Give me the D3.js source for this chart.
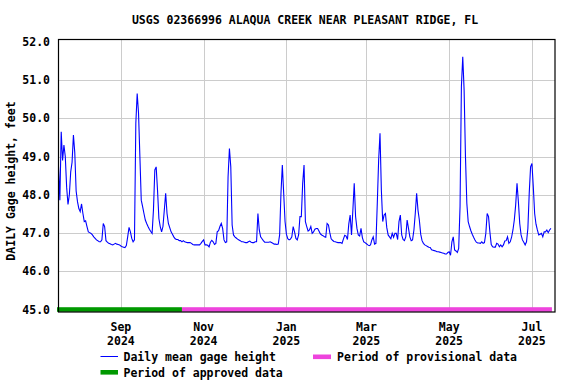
<!DOCTYPE html>
<html>
<head>
<meta charset="utf-8">
<script src="https://cdn.jsdelivr.net/npm/d3@7"></script>
<style>
  body { margin: 0; background: #fff; }
  text { font-family: "DejaVu Sans Mono", monospace; font-weight: bold; font-size: 11.5px; fill: #000; }
</style>
</head>
<body>
<script>
/* Data */
const title = "USGS 02366996 ALAQUA CREEK NEAR PLEASANT RIDGE, FL";
const yTitle = "DAILY Gage height, feet";
const startDate = "2024-07-17";
const gageHeight = [
  48.73, 47.86, 49.65, 48.9, 49.3, 49.0, 48.2, 47.75, 48.0, 48.6,
  48.85, 49.56, 49.1, 48.1, 47.82, 47.64, 47.56, 47.76, 47.51, 47.30,
  47.32, 47.17, 47.03, 47.01, 46.99, 46.95, 46.90, 46.86, 46.82, 46.80,
  46.77, 46.77, 46.82, 47.25, 47.17, 46.80, 46.76, 46.73, 46.72, 46.70,
  46.69, 46.71, 46.73, 46.71, 46.70, 46.69, 46.66, 46.64, 46.63, 46.62,
  46.67, 46.90, 47.15, 47.03, 46.86, 46.77, 46.82, 49.87, 50.65, 50.13,
  49.00, 47.86, 47.69, 47.51, 47.34, 47.25, 47.17, 47.10, 47.04, 46.99,
  47.60, 48.65, 48.73, 48.12, 47.38, 47.17, 47.03, 47.17, 47.60, 48.04,
  47.51, 47.25, 47.14, 47.03, 46.97, 46.90, 46.85, 46.83, 46.83, 46.80,
  46.80, 46.77, 46.80, 46.77, 46.76, 46.75, 46.75, 46.75, 46.73, 46.70,
  46.69, 46.69, 46.69, 46.69, 46.69, 46.73, 46.78, 46.82, 46.69, 46.69,
  46.68, 46.64, 46.76, 46.81, 46.77, 46.70, 46.73, 47.03, 47.06, 47.17,
  47.25, 47.12, 46.82, 46.75, 46.77, 48.47, 49.21, 48.73, 47.21, 46.95,
  46.90, 46.87, 46.84, 46.82, 46.80, 46.77, 46.77, 46.76, 46.75, 46.75,
  46.77, 46.79, 46.76, 46.75, 46.75, 46.77, 46.77, 47.51, 47.08, 46.90,
  46.85, 46.80, 46.76, 46.76, 46.76, 46.76, 46.77, 46.75, 46.73, 46.71,
  46.71, 46.70, 46.71, 46.95, 48.04, 48.78, 48.04, 47.30, 46.97, 46.85,
  46.82, 46.84, 46.90, 47.17, 47.03, 46.86, 46.82, 46.95, 47.43, 47.43,
  48.30, 48.78, 47.30, 47.17, 47.05, 47.08, 47.17, 46.99, 47.03, 47.10,
  47.12, 47.12, 47.05, 46.98, 46.95, 46.93, 46.90, 46.89, 47.25, 47.21,
  47.01, 46.85, 46.81, 46.78, 46.77, 46.76, 46.75, 46.75, 46.75, 46.73,
  46.84, 46.94, 46.92, 46.83, 47.24, 47.47, 46.95, 47.60, 48.30, 47.43,
  47.12, 46.95, 46.92, 47.12, 46.88, 46.77, 46.75, 46.72, 46.69, 46.67,
  46.69, 46.82, 46.90, 46.71, 46.73, 47.78, 48.91, 49.61, 48.12, 47.30,
  47.47, 47.51, 47.14, 46.95, 46.90, 46.85, 46.99, 46.89, 46.99, 46.99,
  46.83, 47.30, 47.47, 46.95, 46.83, 46.80, 46.90, 47.34, 47.12, 46.90,
  46.80, 46.82, 47.08, 47.51, 48.04, 47.60, 47.34, 46.97, 46.80, 46.73,
  46.69, 46.67, 46.65, 46.63, 46.62, 46.56, 46.55, 46.54, 46.53, 46.51,
  46.51, 46.50, 46.49, 46.48, 46.47, 46.45, 46.45, 46.49, 46.51, 46.42,
  46.77, 46.90, 46.56, 46.53, 46.49, 46.60, 47.69, 50.83, 51.61, 50.74,
  49.00, 47.78, 47.30, 47.17, 47.06, 46.97, 46.89, 46.82, 46.76, 46.74,
  46.74, 46.73, 46.77, 46.73, 46.75, 46.99, 47.51, 47.43, 47.03, 46.70,
  46.64, 46.63, 46.63, 46.73, 46.71, 46.64, 46.69, 46.64, 46.69, 46.79,
  46.80, 46.90, 46.73, 46.77, 46.89, 47.08, 47.34, 47.73, 48.30, 47.82,
  47.25, 46.95, 46.82, 46.76, 46.69, 46.77, 47.12, 48.04, 48.73, 48.82,
  48.21, 47.51, 47.23, 47.08, 46.95, 46.97, 46.99, 46.90, 47.03, 47.03,
  47.08, 47.01, 47.08, 47.12
];
const approvedPeriod = ["2024-07-17", "2024-10-16"];
const provisionalPeriod = ["2024-10-16", "2025-07-15"];
const yTicks = [45, 46, 47, 48, 49, 50, 51, 52];
const legendItems = ["Daily mean gage height", "Period of provisional data", "Period of approved data"];

/* Constants */
const W = 576, H = 384;
const BLUE = "#0000ff", GREEN = "#009900", MAGENTA = "#ee44dd";
const parse = d3.timeParse("%Y-%m-%d");

const start = parse(startDate);
const data = gageHeight.map((v, i) => ({ date: d3.timeDay.offset(start, i), value: v }));

/* SVG */
const svg = d3.select("body").append("svg")
  .attr("width", W)
  .attr("height", H);

/* Scales */
const xScale = d3.scaleTime()
  .domain([start, parse("2025-07-18")])
  .range([58.5, 555]);

const yScale = d3.scaleLinear()
  .domain([44.935, 52.06])
  .range([312, 39.5]);

const [x0, x1] = xScale.range();
const [yb, yt] = yScale.range();

/* Grid */
const monthTicks = d3.timeMonth.every(2).range(start, parse("2025-07-18"));

svg.append("g").selectAll("line")
  .data(yTicks.filter(t => t > 45 && t < 52))
  .enter().append("line")
  .attr("x1", x0).attr("x2", x1)
  .attr("y1", d => Math.round(yScale(d)) + 0.5)
  .attr("y2", d => Math.round(yScale(d)) + 0.5)
  .attr("stroke", "#cccccc");

svg.append("g").selectAll("line")
  .data(monthTicks)
  .enter().append("line")
  .attr("x1", d => Math.round(xScale(d)) + 0.5)
  .attr("x2", d => Math.round(xScale(d)) + 0.5)
  .attr("y1", yt).attr("y2", yb)
  .attr("stroke", "#cccccc");

/* Period bars */
svg.append("rect")
  .attr("x", xScale(parse(provisionalPeriod[0])))
  .attr("y", yScale(45) - 2.3)
  .attr("width", xScale(parse(provisionalPeriod[1])) - xScale(parse(provisionalPeriod[0])) + 1)
  .attr("height", 4.6)
  .attr("fill", MAGENTA);

svg.append("rect")
  .attr("x", xScale(parse(approvedPeriod[0])) - 1.5)
  .attr("y", yScale(45) - 2.3)
  .attr("width", xScale(parse(approvedPeriod[1])) - xScale(parse(approvedPeriod[0])) + 1.5)
  .attr("height", 4.6)
  .attr("fill", GREEN);

/* Line */
const line = d3.line()
  .x(d => xScale(d.date))
  .y(d => yScale(d.value));

svg.append("path")
  .datum(data)
  .attr("d", line)
  .attr("fill", "none")
  .attr("stroke", BLUE)
  .attr("stroke-width", 1.1);

/* Frame */
svg.append("rect")
  .attr("x", x0).attr("y", yt)
  .attr("width", x1 - x0).attr("height", yb - yt)
  .attr("fill", "none")
  .attr("stroke", "#000")
  .attr("stroke-width", 1.2);

/* Axis labels */
svg.append("g").selectAll("text")
  .data(yTicks)
  .enter().append("text")
  .attr("x", 50)
  .attr("y", d => yScale(d) + 4)
  .attr("text-anchor", "end")
  .text(d => d3.format(".1f")(d));

const xLabels = svg.append("g").selectAll("text")
  .data(monthTicks)
  .enter().append("text")
  .attr("text-anchor", "middle")
  .attr("x", d => xScale(d));
xLabels.append("tspan").attr("y", 331).text(d => d3.timeFormat("%b")(d));
xLabels.append("tspan").attr("x", d => xScale(d)).attr("y", 345).text(d => d3.timeFormat("%Y")(d));

svg.append("text")
  .attr("x", 305)
  .attr("y", 24)
  .attr("text-anchor", "middle")
  .text(title);

svg.append("text")
  .attr("transform", "translate(15,181) rotate(-90)")
  .attr("text-anchor", "middle")
  .text(yTitle);

/* Legend */
svg.append("line")
  .attr("x1", 100.5).attr("x2", 118)
  .attr("y1", 356.5).attr("y2", 356.5)
  .attr("stroke", BLUE);
svg.append("text").attr("x", 123.5).attr("y", 360.5).text(legendItems[0]);

svg.append("rect")
  .attr("x", 313).attr("y", 354.5)
  .attr("width", 18).attr("height", 4.6)
  .attr("fill", MAGENTA);
svg.append("text").attr("x", 337).attr("y", 360.5).text(legendItems[1]);

svg.append("rect")
  .attr("x", 100.5).attr("y", 370)
  .attr("width", 17.5).attr("height", 4.6)
  .attr("fill", GREEN);
svg.append("text").attr("x", 123.5).attr("y", 376.5).text(legendItems[2]);
</script>
</body>
</html>
